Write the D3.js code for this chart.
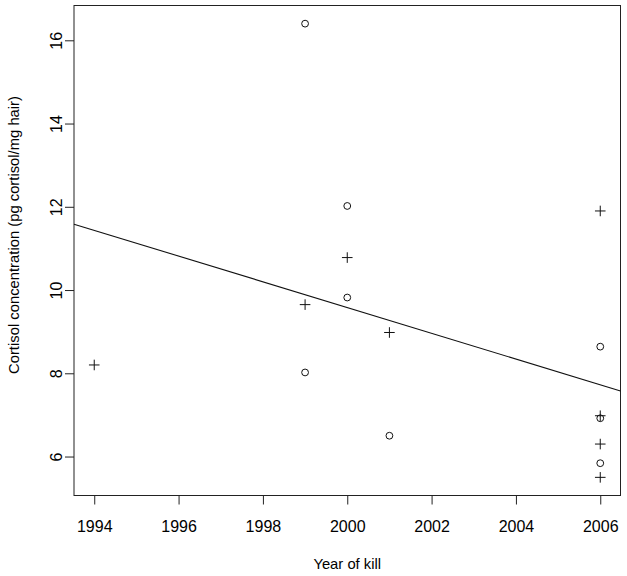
<!DOCTYPE html>
<html>
<head>
<meta charset="utf-8">
<script src="https://cdn.jsdelivr.net/npm/d3@7"></script>
<style>
  html, body { margin: 0; padding: 0; background: #fff; }
  svg { display: block; }
  text { font-family: "Liberation Sans", Arial, Helvetica, sans-serif; fill: #000; }
</style>
</head>
<body>
<svg id="chart" width="627" height="576"></svg>
<script>
// Data
const circleYears  = [1999, 1999, 2000, 2000, 2001, 2006, 2006, 2006];
const circleValues = [16.4, 8.02, 12.02, 9.82, 6.5, 8.64, 6.92, 5.84];
const plusYears    = [1994, 1999, 2000, 2001, 2006, 2006, 2006, 2006];
const plusValues   = [8.2, 9.65, 10.78, 8.98, 11.9, 6.98, 6.3, 5.5];
const xTicks = [1994, 1996, 1998, 2000, 2002, 2004, 2006];
const yTicks = [6, 8, 10, 12, 14, 16];
const xLabel = "Year of kill";
const yLabel = "Cortisol concentration (pg cortisol/mg hair)";

(function () {
const svg = d3.select("#chart");
const pL = 74, pR = 620.5, pT = 5.5, pB = 495.5;
const fs = "16px", fsTitle = "14.8px";

const allX = circleYears.concat(plusYears);
const allY = circleValues.concat(plusValues);
function pad(ext) { const d = (ext[1] - ext[0]) * 0.04; return [ext[0] - d, ext[1] + d]; }

const x = d3.scaleLinear().domain(pad(d3.extent(allX))).range([pL, pR]);
const y = d3.scaleLinear().domain(pad(d3.extent(allY))).range([pB, pT]);

// Box
svg.append("rect")
  .attr("x", pL).attr("y", pT)
  .attr("width", pR - pL).attr("height", pB - pT)
  .attr("fill", "none").attr("stroke", "#222").attr("stroke-width", 1);

// X axis
const xAxis = d3.axisBottom(x).tickValues(xTicks).tickFormat(d3.format("d")).tickSize(9).tickSizeOuter(0).tickPadding(16.5);
const gx = svg.append("g").attr("transform", `translate(0,${pB})`).call(xAxis);
gx.attr("font-family", null).attr("font-size", null);
gx.select(".domain").remove();
gx.selectAll("line").attr("stroke", "#222");
gx.selectAll("text").style("font-size", fs).attr("fill", "#000");

// Y axis (labels rotated, as in R default)
const yAxis = d3.axisLeft(y).tickValues(yTicks).tickFormat(d3.format("d")).tickSize(9).tickSizeOuter(0);
const gy = svg.append("g").attr("transform", `translate(${pL},0)`).call(yAxis);
gy.attr("font-family", null).attr("font-size", null);
gy.select(".domain").remove();
gy.selectAll("line").attr("stroke", "#222");
gy.selectAll(".tick text")
  .attr("x", 0).attr("y", 0).attr("dy", null)
  .attr("text-anchor", "middle")
  .attr("transform", "translate(-12.5,0) rotate(-90)")
  .attr("fill", "#000")
  .style("font-size", fs);

// Axis titles
svg.append("text")
  .attr("x", (pL + pR) / 2).attr("y", 569)
  .attr("text-anchor", "middle").style("font-size", fsTitle)
  .text(xLabel);
svg.append("text")
  .attr("transform", `translate(18.5,235) rotate(-90)`)
  .attr("text-anchor", "middle").style("font-size", fsTitle)
  .text(yLabel);

// Regression line (least squares on all points)
const n = allX.length;
const mx = d3.mean(allX), my = d3.mean(allY);
let sxy = 0, sxx = 0;
for (let i = 0; i < n; i++) { sxy += (allX[i] - mx) * (allY[i] - my); sxx += (allX[i] - mx) ** 2; }
const slope = sxy / sxx, intercept = my - slope * mx;
const [x0, x1] = x.domain();
svg.append("line")
  .attr("x1", x(x0)).attr("y1", y(intercept + slope * x0))
  .attr("x2", x(x1)).attr("y2", y(intercept + slope * x1))
  .attr("stroke", "#111").attr("stroke-width", 1.1);

// Circles
svg.append("g").selectAll("circle")
  .data(circleYears.map((d, i) => [d, circleValues[i]]))
  .join("circle")
  .attr("cx", d => x(d[0])).attr("cy", d => y(d[1]))
  .attr("r", 3.4).attr("fill", "none").attr("stroke", "#111").attr("stroke-width", 1);

// Plus signs
const plusG = svg.append("g").attr("stroke", "#111").attr("stroke-width", 1);
const ps = plusYears.map((d, i) => [d, plusValues[i]]);
const h = 5.3;
plusG.selectAll("path")
  .data(ps).join("path")
  .attr("d", d => {
    const cx = x(d[0]), cy = y(d[1]);
    return `M${cx - h},${cy}H${cx + h}M${cx},${cy - h}V${cy + h}`;
  })
  .attr("fill", "none");
})();
</script>
</body>
</html>
